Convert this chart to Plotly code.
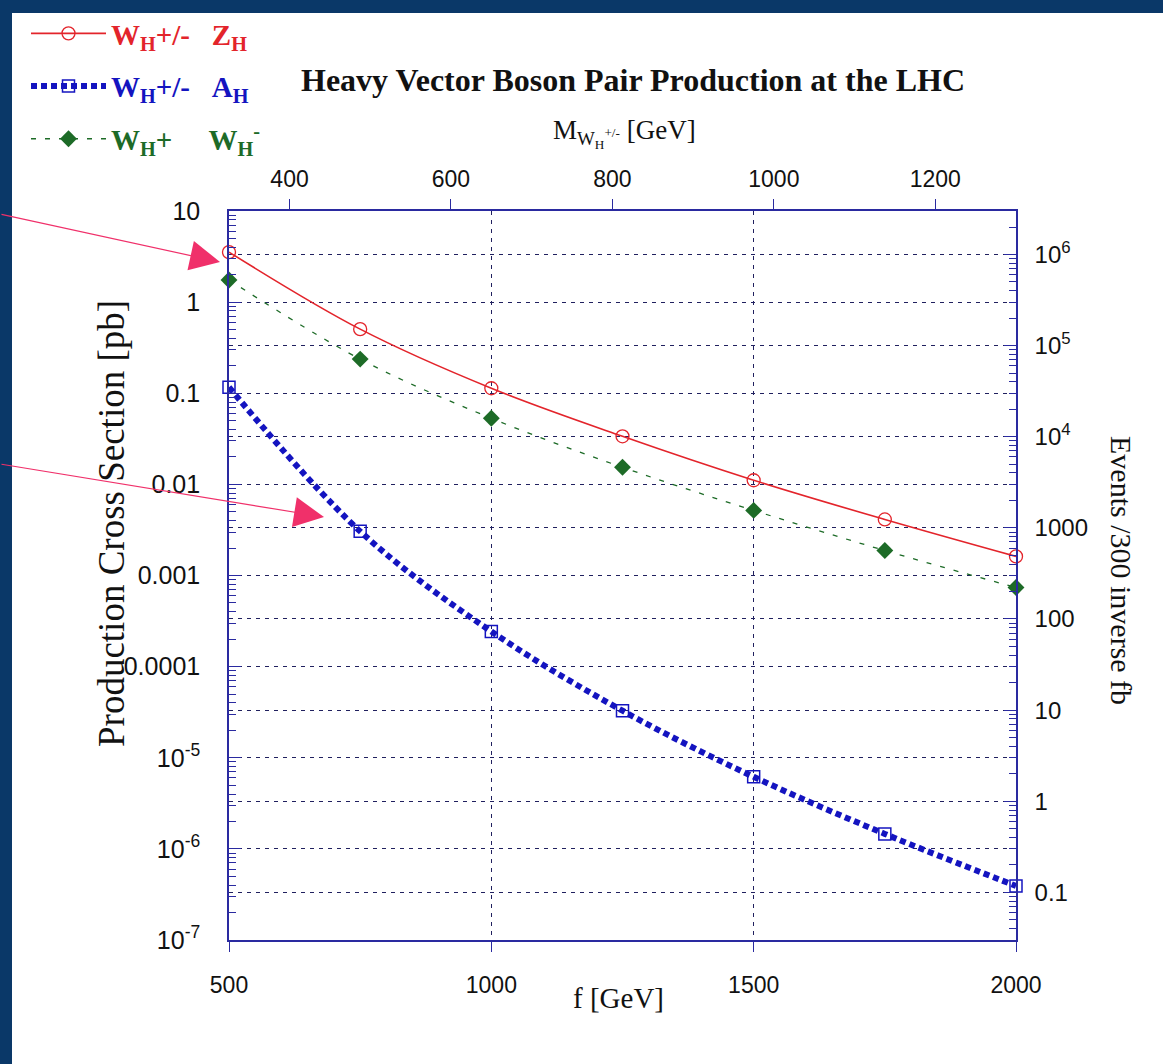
import math
import plotly.graph_objects as go

# ---------------- data ----------------
f_gev = [500, 750, 1000, 1250, 1500, 1750, 2000]
sigma_wz = [3.54, 0.505, 0.1135, 0.0337, 0.0111, 0.00412, 0.00162]      # W_H+/- Z_H
sigma_wa = [0.1164, 0.00305, 0.000243, 3.28e-5, 6.18e-6, 1.46e-6, 3.92e-7]  # W_H+/- A_H
sigma_ww = [1.75, 0.237, 0.0531, 0.0154, 0.00518, 0.00188, 0.000738]    # W_H+ W_H-

mass_ratio = 0.65          # M_WH = 0.65 f
events_per_pb = 3.0e5      # 300 fb^-1

x_ticks = [500, 1000, 1500, 2000]
x_ticktext = ["500", "1000", "1500", "2000"]
m_ticks = [400, 600, 800, 1000, 1200]
m_ticktext = ["400", "600", "800", "1000", "1200"]
y_ticks = [10, 1, 0.1, 0.01, 0.001, 0.0001, 1e-5, 1e-6, 1e-7]
y_ticktext = ["10", "1", "0.1", "0.01", "0.001", "0.0001",
              "10<sup>-5</sup>", "10<sup>-6</sup>", "10<sup>-7</sup>"]
ev_ticks = [1e6, 1e5, 1e4, 1000, 100, 10, 1, 0.1]
ev_ticktext = ["10<sup>6</sup>", "10<sup>5</sup>", "10<sup>4</sup>",
               "1000", "100", "10", "1", "0.1"]

f_range = [500, 2000]
sigma_range = [1e-7, 10]

# ---------------- styles ----------------
RED = "#e3242b"
BLUE = "#1414c0"
GREEN = "#1d6b27"
AXIS = "#2a2aa0"
GRID = "#20205f"
FRAME = "#0a3868"
SANS = "Liberation Sans, Arial, sans-serif"
SERIF = "Liberation Serif, Times New Roman, serif"
NB = "\u00a0"

W, H = 1163, 1064
PL, PR, PT, PB = 229, 1016, 211, 940


def xp(px):
    return (px - PL) / (PR - PL)


def yp(py):
    return (PB - py) / (PB - PT)


fig = go.Figure()

fig.add_trace(go.Scatter(
    x=f_gev, y=sigma_wz, mode="lines+markers", line_shape="spline",
    line=dict(color=RED, width=1.6),
    marker=dict(symbol="circle-open", size=13, color=RED, line=dict(width=1.3)),
    cliponaxis=False, legendgroup="a",
    name=f'<span style="color:{RED}"><b>W<sub>H</sub>+/-{NB}{NB}{NB}Z<sub>H</sub></b></span>',
))
fig.add_trace(go.Scatter(
    x=f_gev, y=sigma_wa, mode="lines+markers", line_shape="spline",
    line=dict(color=BLUE, width=6, dash="6px,4px"),
    marker=dict(symbol="square-open", size=12, color=BLUE, line=dict(width=1.5)),
    cliponaxis=False, legendgroup="b",
    name=f'<span style="color:{BLUE}"><b>W<sub>H</sub>+/-{NB}{NB}{NB}A<sub>H</sub></b></span>',
))
fig.add_trace(go.Scatter(
    x=f_gev, y=sigma_ww, mode="lines+markers", line_shape="spline",
    line=dict(color=GREEN, width=1.3, dash="5px,9px"),
    marker=dict(symbol="diamond", size=13, color=GREEN),
    cliponaxis=False, legendgroup="c",
    name=f'<span style="color:{GREEN}"><b>W<sub>H</sub>+{NB}{NB}{NB}{NB}{NB}W<sub>H</sub><sup>-</sup></b></span>',
))
# helper trace carrying the same data on the secondary (mass / events) axes
fig.add_trace(go.Scatter(
    x=[mass_ratio * v for v in f_gev], y=[events_per_pb * s for s in sigma_ww],
    xaxis="x2", yaxis="y2", mode="lines", line=dict(width=0), opacity=0,
    hoverinfo="skip", showlegend=False,
))

tick_font = dict(family=SANS, size=23, color="#111111")
left_font = dict(family=SANS, size=25, color="#111111")
right_font = dict(family=SANS, size=24, color="#111111")

fig.update_layout(
    width=W, height=H,
    margin=dict(l=PL, r=W - PR, t=PT, b=H - PB, autoexpand=False),
    paper_bgcolor=FRAME, plot_bgcolor="white",
    showlegend=True,
    legend=dict(
        x=xp(26), y=yp(8), xanchor="left", yanchor="top",
        bgcolor="rgba(0,0,0,0)", font=dict(family=SERIF, size=29),
        itemwidth=75, tracegroupgap=12,
    ),
    xaxis=dict(
        range=f_range, tickvals=x_ticks, ticktext=x_ticktext,
        ticks="outside", ticklen=10, tickwidth=1.3, tickcolor=AXIS,
        showline=True, linecolor=AXIS, linewidth=1.6,
        showgrid=True, gridcolor=GRID, gridwidth=1.3, griddash="4px,5px",
        zeroline=False, tickfont=tick_font, ticklabelstandoff=14,
    ),
    xaxis2=dict(
        range=[mass_ratio * f_range[0], mass_ratio * f_range[1]],
        overlaying="x", side="top", anchor="y",
        tickvals=m_ticks, ticktext=m_ticktext,
        ticks="outside", ticklen=10, tickwidth=1.3, tickcolor=AXIS,
        showline=True, linecolor=AXIS, linewidth=1.6,
        showgrid=False, zeroline=False, tickfont=tick_font,
        ticklabelstandoff=3,
    ),
    yaxis=dict(
        type="log", range=[math.log10(sigma_range[0]), math.log10(sigma_range[1])],
        tickvals=y_ticks, ticktext=y_ticktext,
        ticks="inside", ticklen=12, tickwidth=1.3, tickcolor=AXIS,
        minor=dict(ticks="inside", ticklen=7, tickwidth=1.2, tickcolor=AXIS,
                   dtick="D1", showgrid=False),
        showline=True, linecolor=AXIS, linewidth=1.6,
        showgrid=True, gridcolor=GRID, gridwidth=1.3, griddash="4px,5px",
        zeroline=False, tickfont=left_font, ticklabelstandoff=22,
    ),
    yaxis2=dict(
        type="log",
        range=[math.log10(events_per_pb * sigma_range[0]),
               math.log10(events_per_pb * sigma_range[1])],
        overlaying="y", side="right", anchor="x",
        tickvals=ev_ticks, ticktext=ev_ticktext,
        ticks="inside", ticklen=12, tickwidth=1.3, tickcolor=AXIS,
        minor=dict(ticks="inside", ticklen=7, tickwidth=1.2, tickcolor=AXIS,
                   dtick="D1", showgrid=False),
        showline=True, linecolor=AXIS, linewidth=1.6,
        showgrid=True, gridcolor=GRID, gridwidth=1.3, griddash="4px,5px",
        zeroline=False, tickfont=right_font, ticklabelstandoff=12,
    ),
)

# white page inside the dark frame
fig.add_shape(type="rect", xref="paper", yref="paper", layer="below",
              x0=xp(12), x1=xp(W + 20), y0=yp(H + 20), y1=yp(13),
              fillcolor="white", line=dict(width=0))

# titles
TXT = "#111111"
fig.add_annotation(text="<b>Heavy Vector Boson Pair Production at the LHC</b>",
                   xref="paper", yref="paper", x=xp(633), y=yp(80),
                   xanchor="center", yanchor="middle",
                   showarrow=False, font=dict(family=SERIF, size=32, color=TXT))
fig.add_annotation(text="M<sub>W<sub>H</sub><sup>+/-</sup></sub> [GeV]",
                   xref="paper", yref="paper", x=xp(624), y=yp(133),
                   xanchor="center", yanchor="middle",
                   showarrow=False, font=dict(family=SERIF, size=27, color=TXT))
fig.add_annotation(text="f [GeV]",
                   xref="paper", yref="paper", x=xp(618), y=yp(998),
                   xanchor="center", yanchor="middle",
                   showarrow=False, font=dict(family=SERIF, size=29, color=TXT))
fig.add_annotation(text="Production Cross Section [pb]", textangle=-90,
                   xref="paper", yref="paper", x=xp(111), y=yp(523),
                   xanchor="center", yanchor="middle",
                   showarrow=False, font=dict(family=SERIF, size=37, color=TXT))
fig.add_annotation(text="Events /300 inverse fb", textangle=90,
                   xref="paper", yref="paper", x=xp(1122), y=yp(570),
                   xanchor="center", yanchor="middle",
                   showarrow=False, font=dict(family=SERIF, size=30, color=TXT))

# pink arrows
ARROW = "#f0306a"
for hx, hy, tx, ty in [(220, 262, 0, 214), (324, 517, 0, 464)]:
    fig.add_annotation(text="", xref="paper", yref="paper",
                       x=xp(hx), y=yp(hy),
                       ax=tx - hx, ay=ty - hy, axref="pixel", ayref="pixel",
                       showarrow=True, arrowhead=2, arrowsize=5, arrowwidth=1.2,
                       arrowcolor=ARROW)

fig.write_html(
    "out.html",
    config={"displayModeBar": False},
    post_script=(f"document.body.style.margin='0';"
                 f"document.body.style.overflow='hidden';"
                 f"document.body.style.background='{FRAME}';"),
)
